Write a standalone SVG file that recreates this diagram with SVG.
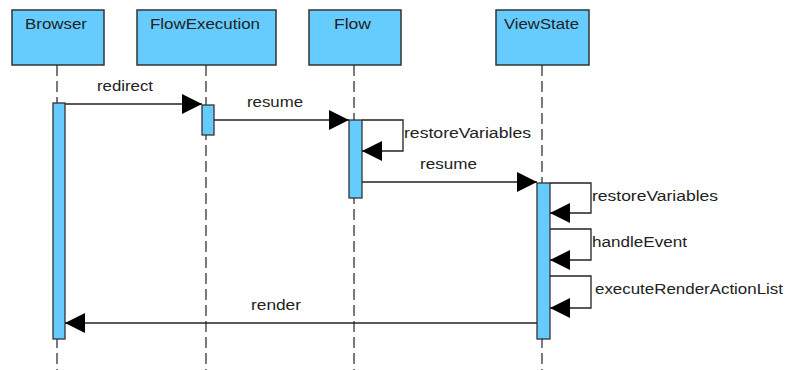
<svg xmlns="http://www.w3.org/2000/svg" width="787" height="370" viewBox="0 0 787 370">
  <defs>
    <marker id="arrow" markerUnits="userSpaceOnUse" markerWidth="20" markerHeight="20" refX="20" refY="10" orient="auto" overflow="visible">
      <path d="M0,0 L20,10 L0,20 z" fill="#000"/>
    </marker>
    <style>
      .head { fill: #66CCFF; stroke: #333; stroke-width: 1.5; }
      .life { stroke: #333; stroke-width: 1.3; stroke-dasharray: 11 5; fill: none; }
      .act { fill: #66CCFF; stroke: #333; stroke-width: 1.3; }
      .msg { stroke: #222; stroke-width: 1.3; fill: none; marker-end: url(#arrow); }
      text { font-family: "Liberation Sans", Arial, sans-serif; font-size: 15.5px; fill: #222; }
    </style>
  </defs>
  <rect width="787" height="370" fill="#fff"/>

  <!-- Lifelines -->
  <g id="browser">
    <rect class="head" x="12" y="10" width="92" height="55"/>
    <text x="25" y="29" textLength="62" lengthAdjust="spacingAndGlyphs">Browser</text>
    <line class="life" x1="57" y1="65" x2="57" y2="370"/>
    <rect class="act" x="53" y="103" width="12" height="236"/>
  </g>
  <g id="flowexecution">
    <rect class="head" x="137" y="10" width="139" height="55"/>
    <text x="150" y="29" textLength="110" lengthAdjust="spacingAndGlyphs">FlowExecution</text>
    <line class="life" x1="206" y1="65" x2="206" y2="370"/>
    <rect class="act" x="202" y="105" width="12" height="30"/>
  </g>
  <g id="flow">
    <rect class="head" x="309" y="10" width="92" height="55"/>
    <text x="334" y="29" textLength="37" lengthAdjust="spacingAndGlyphs">Flow</text>
    <line class="life" x1="354" y1="65" x2="354" y2="370"/>
    <rect class="act" x="349" y="120" width="13" height="78"/>
  </g>
  <g id="viewstate">
    <rect class="head" x="496" y="10" width="93" height="55"/>
    <text x="504" y="29" textLength="75" lengthAdjust="spacingAndGlyphs">ViewState</text>
    <line class="life" x1="542" y1="65" x2="542" y2="370"/>
    <rect class="act" x="537" y="183" width="13" height="156"/>
  </g>

  <!-- Messages -->
  <g id="connectors">
    <path class="msg" d="M65,104 H202"/>
    <text x="97" y="91" textLength="56" lengthAdjust="spacingAndGlyphs">redirect</text>

    <path class="msg" d="M214,120 H349"/>
    <text x="247" y="107" textLength="56" lengthAdjust="spacingAndGlyphs">resume</text>

    <path class="msg" d="M362,120 H403 V151 H362"/>
    <text x="404" y="138" textLength="127" lengthAdjust="spacingAndGlyphs">restoreVariables</text>

    <path class="msg" d="M362,182 H537"/>
    <text x="420" y="169" textLength="57" lengthAdjust="spacingAndGlyphs">resume</text>

    <path class="msg" d="M550,183 H591 V213 H550"/>
    <text x="592" y="201" textLength="126" lengthAdjust="spacingAndGlyphs">restoreVariables</text>

    <path class="msg" d="M550,229 H591 V260 H550"/>
    <text x="592" y="247" textLength="95" lengthAdjust="spacingAndGlyphs">handleEvent</text>

    <path class="msg" d="M550,276 H591 V308 H550"/>
    <text x="595" y="294" textLength="188" lengthAdjust="spacingAndGlyphs">executeRenderActionList</text>

    <path class="msg" d="M537,323 H65"/>
    <text x="251" y="310" textLength="50" lengthAdjust="spacingAndGlyphs">render</text>
  </g>
</svg>
